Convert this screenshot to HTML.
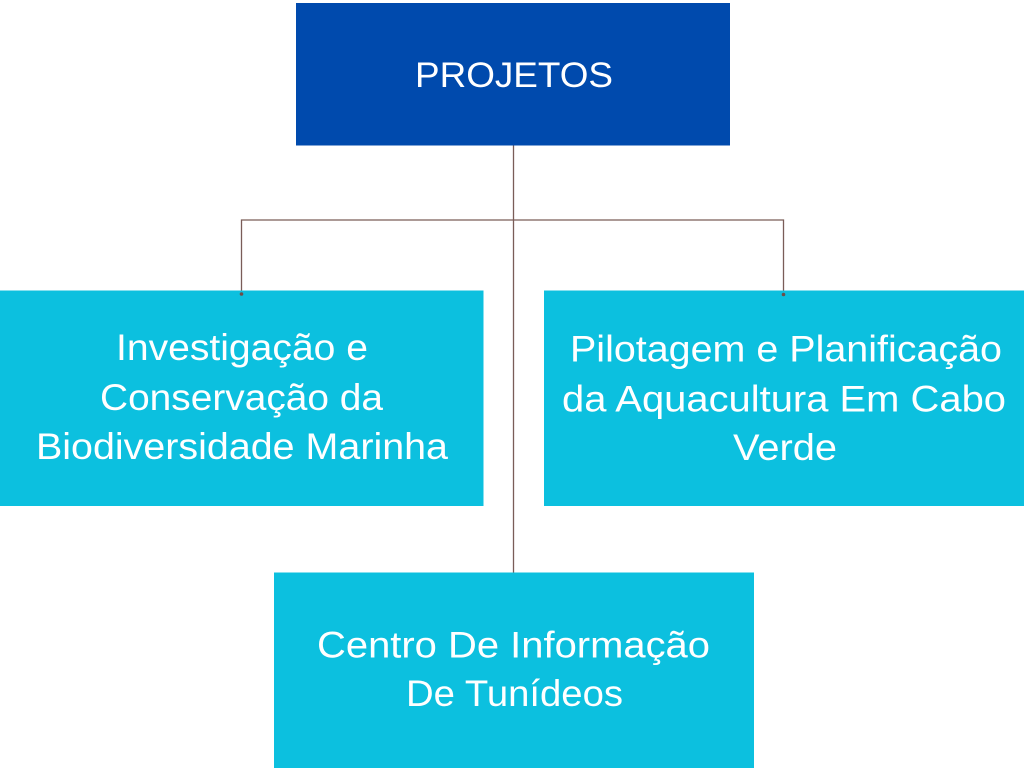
<!DOCTYPE html>
<html>
<head>
<meta charset="utf-8">
<style>
  html, body { margin: 0; padding: 0; background: #ffffff; }
  body { width: 1024px; height: 768px; overflow: hidden; }
  svg { display: block; }
  text { font-family: "Liberation Sans", "DejaVu Sans", sans-serif; fill: #ffffff; }
</style>
</head>
<body>
<svg width="1024" height="768" viewBox="0 0 1024 768" xmlns="http://www.w3.org/2000/svg">
  <rect x="0" y="0" width="1024" height="768" fill="#ffffff"/>

  <!-- connectors -->
  <g stroke="#7a5d58" stroke-width="1.3" fill="none">
    <line x1="513.5" y1="145" x2="513.5" y2="573"/>
    <polyline points="241.5,294 241.5,220 783.5,220 783.5,294"/>
  </g>

  <!-- top box -->
  <rect x="296" y="3" width="434" height="142.5" fill="#004AAD"/>
  <text x="415" y="87" font-size="35" textLength="198" lengthAdjust="spacingAndGlyphs">PROJETOS</text>

  <!-- left box -->
  <rect x="0" y="290.5" width="483.5" height="215.5" fill="#0CC0DF"/>
  <text x="116" y="360" font-size="37" textLength="252" lengthAdjust="spacingAndGlyphs">Investigação e</text>
  <text x="100" y="410" font-size="37" textLength="283" lengthAdjust="spacingAndGlyphs">Conservação da</text>
  <text x="36" y="459" font-size="37" textLength="412" lengthAdjust="spacingAndGlyphs">Biodiversidade Marinha</text>

  <!-- right box -->
  <rect x="544" y="290.5" width="480" height="215.5" fill="#0CC0DF"/>
  <text x="570" y="361.5" font-size="37" textLength="432" lengthAdjust="spacingAndGlyphs">Pilotagem e Planificação</text>
  <text x="562" y="411.5" font-size="37" textLength="444" lengthAdjust="spacingAndGlyphs">da Aquacultura Em Cabo</text>
  <text x="733" y="460" font-size="37" textLength="104" lengthAdjust="spacingAndGlyphs">Verde</text>

  <!-- bottom box -->
  <rect x="274" y="572.5" width="480" height="195.5" fill="#0CC0DF"/>
  <text x="317" y="657.5" font-size="37" textLength="393" lengthAdjust="spacingAndGlyphs">Centro De Informação</text>
  <text x="406" y="706" font-size="37" textLength="217" lengthAdjust="spacingAndGlyphs">De Tunídeos</text>

  <!-- connector end dots -->
  <circle cx="241.5" cy="294" r="1.8" fill="#6e4e4a"/>
  <circle cx="783.5" cy="294.5" r="1.8" fill="#6e4e4a"/>
</svg>
</body>
</html>
